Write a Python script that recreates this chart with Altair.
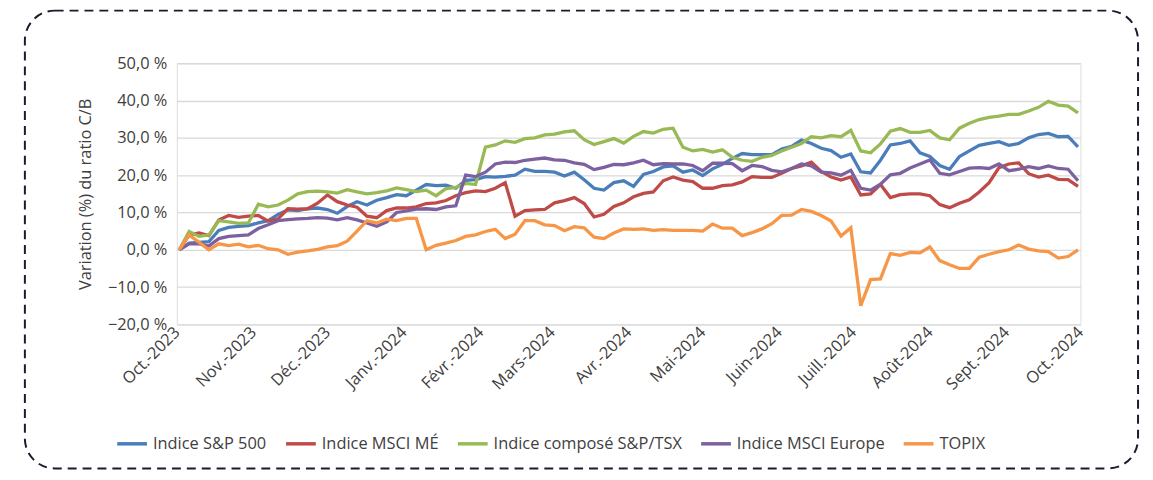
import altair as alt
import pandas as pd

# ---- data (% change of P/E ratio) ----
START_DATE = "2023-10-02"
STEP_DAYS = 4

sp500 = [0, 1.8, 2.0, 2.2, 5.2, 6.0, 6.3, 6.5, 7.2, 7.8,
         9.5, 10.7, 10.5, 11.0, 11.2, 10.8, 9.8, 11.6, 12.9, 12.0,
         13.3, 14.0, 14.8, 14.5, 16.0, 17.5, 17.2, 17.3, 16.5, 18.6,
         18.8, 19.6, 19.5, 19.7, 20.0, 21.6, 21.0, 21.0, 20.8, 19.8,
         20.8, 18.8, 16.5, 16.0, 18.0, 18.5, 17.0, 20.2, 21.0, 22.2,
         22.5, 20.8, 21.4, 19.9, 21.7, 22.9, 24.5, 25.8, 25.5, 25.5,
         25.5, 27.0, 27.7, 29.4, 28.5, 27.2, 26.6, 24.8, 25.7, 20.9,
         20.6, 24.0, 28.1, 28.5, 29.2, 26.0, 25.0, 22.6, 21.6, 25.0,
         26.5, 28.0, 28.5, 29.0, 28.0, 28.5, 30.0, 30.9, 31.2, 30.3,
         30.4, 27.6]

msci_em = [0, 4.0, 4.5, 3.8, 8.0, 9.2, 8.7, 9.0, 9.2, 7.7,
           8.3, 11.0, 10.9, 11.0, 12.5, 14.7, 12.9, 12.0, 11.4, 9.0,
           8.6, 10.5, 11.2, 11.2, 11.5, 12.4, 12.6, 13.2, 14.5, 15.3,
           15.8, 15.6, 16.5, 18.0, 9.0, 10.5, 10.7, 10.8, 12.6, 13.2,
           14.0, 12.4, 8.8, 9.5, 11.6, 12.6, 14.2, 15.1, 15.5, 18.5,
           19.5, 18.7, 18.3, 16.5, 16.5, 17.2, 17.4, 18.2, 19.6, 19.4,
           19.4, 20.5, 21.8, 22.5, 23.5, 21.0, 19.5, 18.7, 19.5, 14.7,
           15.0, 17.5, 14.0, 14.8, 15.0, 15.0, 14.5, 12.1, 11.3, 12.5,
           13.4, 15.5, 18.0, 22.0, 23.0, 23.3, 20.4, 19.5, 20.0, 18.9,
           18.8, 17.0]

tsx = [0, 4.9, 3.6, 4.0, 7.8, 7.5, 7.1, 7.2, 12.2, 11.5,
       12.0, 13.3, 15.0, 15.6, 15.7, 15.5, 15.2, 16.1, 15.5, 15.0,
       15.3, 15.8, 16.6, 16.1, 15.6, 16.0, 14.5, 16.4, 16.7, 17.8,
       17.5, 27.5, 28.1, 29.2, 28.8, 29.8, 30.0, 30.8, 31.0, 31.6,
       31.9, 29.5, 28.2, 29.0, 29.8, 28.6, 30.4, 31.7, 31.3, 32.3,
       32.6, 27.5, 26.5, 26.9, 26.2, 26.8, 24.8, 24.0, 23.7, 24.8,
       25.3, 26.5, 27.5, 28.5, 30.3, 30.0, 30.6, 30.3, 32.0, 26.5,
       26.0, 28.4, 31.8, 32.5, 31.5, 31.5, 32.0, 30.0, 29.5, 32.6,
       33.9, 34.9, 35.5, 35.8, 36.3, 36.3, 37.2, 38.2, 39.8, 38.8,
       38.5, 36.7]

msci_eu = [0, 1.6, 1.6, 1.0, 3.0, 3.6, 3.8, 4.0, 5.7, 6.7,
           7.8, 8.1, 8.3, 8.4, 8.6, 8.5, 8.0, 8.6, 8.0, 7.2,
           6.3, 7.5, 10.0, 10.4, 10.9, 11.0, 10.8, 11.5, 11.8, 20.0,
           19.6, 20.8, 23.0, 23.5, 23.4, 24.0, 24.3, 24.6, 24.1, 24.0,
           23.3, 22.9, 21.5, 22.1, 22.9, 22.8, 23.3, 24.0, 22.8, 23.1,
           23.0, 23.0, 22.6, 21.2, 23.2, 23.2, 23.1, 21.2, 22.6, 22.3,
           21.3, 20.9, 21.8, 23.0, 22.5, 20.8, 20.6, 20.0, 21.3, 16.5,
           16.0, 17.6, 20.1, 20.5, 21.9, 23.0, 24.1, 20.5, 20.1, 21.0,
           21.9, 22.0, 21.8, 23.0, 21.2, 21.6, 22.3, 21.8, 22.5, 21.8,
           21.6, 18.5]

topix = [0, 4.0, 2.0, 0.0, 1.6, 1.1, 1.5, 0.8, 1.2, 0.3,
         0.0, -1.2, -0.6, -0.3, 0.1, 0.8, 1.1, 2.3, 5.0, 7.8,
         7.2, 8.2, 7.8, 8.4, 8.4, 0.0, 1.2, 1.8, 2.5, 3.6,
         4.0, 4.9, 5.5, 3.0, 4.2, 7.8, 7.8, 6.7, 6.5, 5.1,
         6.2, 5.9, 3.4, 3.0, 4.5, 5.6, 5.5, 5.6, 5.2, 5.4,
         5.2, 5.2, 5.2, 5.0, 6.9, 5.8, 5.8, 3.8, 4.6, 5.6,
         7.0, 9.2, 9.3, 10.8, 10.3, 9.2, 7.7, 3.7, 5.9, -15.0,
         -8.0, -7.8, -1.0, -1.5, -0.7, -0.8, 0.8, -2.9, -4.0, -5.0,
         -5.0, -2.0, -1.2, -0.5, 0.0, 1.3, 0.2, -0.3, -0.5, -2.2,
         -1.8, 0.0]

series_names = ["Indice S&P 500", "Indice MSCI MÉ", "Indice composé S&P/TSX",
                "Indice MSCI Europe", "TOPIX"]
series_values = [sp500, msci_em, tsx, msci_eu, topix]
series_colors = ["#4A7EBB", "#BE4B48", "#98B954", "#7D60A0", "#F79646"]

month_names = ["Janv.", "Févr.", "Mars", "Avr.", "Mai", "Juin",
               "Juill.", "Août", "Sept.", "Oct.", "Nov.", "Déc."]
y_ticks = [-20, -10, 0, 10, 20, 30, 40, 50]

dates = pd.date_range(START_DATE, periods=len(sp500), freq=f"{STEP_DAYS}D")
rows = []
for name, vals in zip(series_names, series_values):
    for d, v in zip(dates, vals):
        rows.append({"date": d.strftime("%Y-%m-%d"), "value": v, "serie": name})
df = pd.DataFrame(rows)

tick_dates = [alt.DateTime(year=2023 + (9 + i) // 12, month=(9 + i) % 12 + 1, date=1, utc=True)
              for i in range(13)]

FONT = "Open Sans"
TXT = "#404040"
FS = 16.5

month_js = "[" + ",".join(f"'{m}'" for m in month_names) + "]"

lines = alt.Chart(df).mark_line(strokeWidth=3.3, clip=False).encode(
    x=alt.X("date:T",
            scale=alt.Scale(type="utc",
                            domain=[alt.DateTime(year=2023, month=10, date=1, utc=True),
                                    alt.DateTime(year=2024, month=10, date=1, utc=True)]),
            axis=alt.Axis(values=tick_dates, title=None, grid=False, domain=False, ticks=False,
                          labelAngle=-45, labelAlign="right", labelBaseline="middle",
                          labelPadding=5, labelFontSize=FS, labelColor=TXT, labelFont=FONT,
                          labelExpr=f"{month_js}[utcmonth(datum.value)] + '-' + utcyear(datum.value)")),
    y=alt.Y("value:Q",
            scale=alt.Scale(domain=[-20, 50], nice=False),
            axis=alt.Axis(values=y_ticks, title="Variation (%) du ratio C/B",
                          titleFontSize=FS, titleFontWeight="normal", titleColor=TXT, titleFont=FONT,
                          titlePadding=14, labelFontSize=FS, labelColor=TXT, labelFont=FONT,
                          labelPadding=10, domain=False, ticks=False,
                          gridColor="#D9D9D9", gridWidth=1.3,
                          labelExpr="replace(format(datum.value, '.1f'), '.', ',') + ' %'")),
    color=alt.Color("serie:N",
                    scale=alt.Scale(domain=series_names, range=series_colors),
                    sort=series_names,
                    legend=alt.Legend(orient="none", legendX=-62, legendY=366,
                                      direction="horizontal", title=None,
                                      symbolType="stroke", symbolSize=900,
                                      symbolStrokeWidth=3.5, labelFontSize=FS,
                                      labelColor=TXT, labelFont=FONT, labelOffset=4,
                                      labelLimit=400, columnPadding=12)),
)

border_df = pd.DataFrame({"k": [0]})
border = alt.Chart(border_df).mark_rect(
    fill="transparent", stroke="#1B1B2F", strokeWidth=2,
    strokeDash=[9, 6], cornerRadius=30, clip=False
).encode(x=alt.value(-153), x2=alt.value(968), y=alt.value(-53), y2=alt.value(408))

chart = alt.layer(border, lines).properties(
    width=910, height=263,
    autosize=alt.AutoSizeParams(type="none"),
    padding={"left": 170, "top": 54, "right": 65, "bottom": 150},
).configure_view(stroke=None).configure(font=FONT)

chart.save("out.html", embed_options={"renderer": "svg", "actions": False})
